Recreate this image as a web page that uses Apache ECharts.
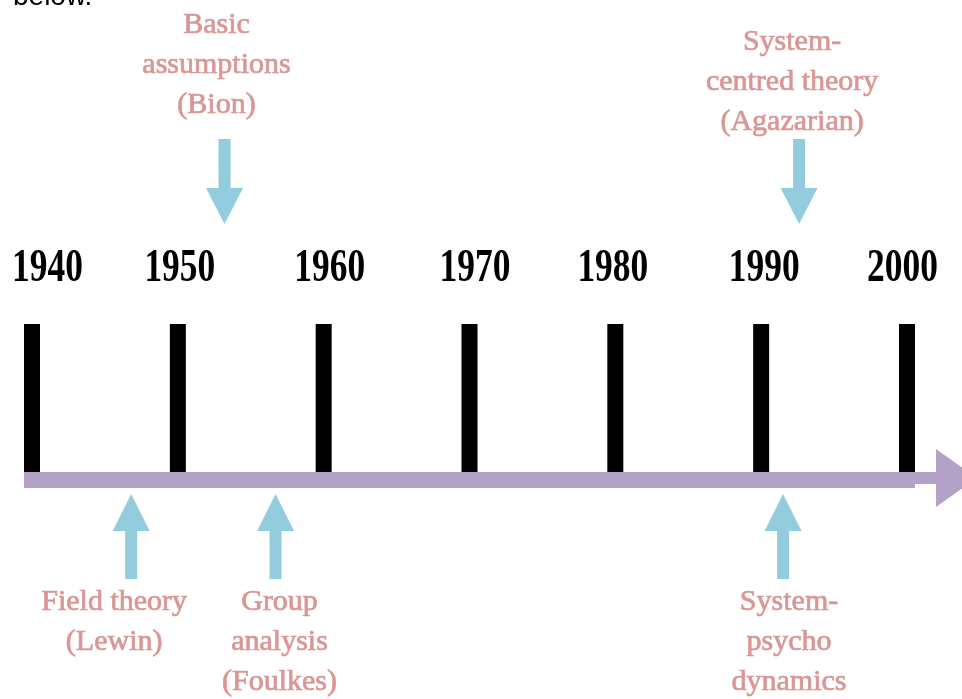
<!DOCTYPE html>
<html>
<head>
<meta charset="utf-8">
<script src="https://cdn.jsdelivr.net/npm/echarts@6/dist/echarts.min.js"></script>
<style>
  html, body { margin: 0; padding: 0; background: #ffffff; }
  #chart { width: 962px; height: 699px; }
</style>
</head>
<body>
<div id="chart"></div>
<script>
// ---------------- data ----------------
const years = [1940, 1950, 1960, 1970, 1980, 1990, 2000];
const yearLabels = ['1940', '1950', '1960', '1970', '1980', '1990', '2000'];
const eventYears = [1953.2, 1946.8, 1956.7, 1992.6, 1991.5];
const eventLabels = [
  'Basic\nassumptions\n(Bion)',
  'Field theory\n(Lewin)',
  'Group\nanalysis\n(Foulkes)',
  'System-\ncentred theory\n(Agazarian)',
  'System-\npsycho\ndynamics'
];
const eventSides = ['above', 'below', 'below', 'above', 'below'];
const introText = 'below.';

// ---------------- style ----------------
const PURPLE = '#B2A2C7';
const BLUE = '#93CDDD';
const PINK = '#D99694';
const yearLabelDx = [15.5, 2, 6, 5.5, -2.5, 3, -4.5];
const eventLabelDx = [-8, -17, 4, -7, 6];
const eventLabelTop = [5, 582, 582, 22, 582];
const LINE_Y = 480, LINE_H = 16;
const TICK_TOP = 324, TICK_W = 16;
const YEAR_Y = 269;

const chart = echarts.init(document.getElementById('chart'), null, { renderer: 'canvas' });

const option = {
  animation: false,
  backgroundColor: '#ffffff',
  grid: { left: 32, right: 55, top: 0, bottom: 0 },
  xAxis: { type: 'value', min: 1940, max: 2000, interval: 10, show: false },
  yAxis: { type: 'value', min: 0, max: 1, show: false },
  graphic: [{
    type: 'text', x: 13, y: -3,
    style: { text: introText, fill: '#000', fontSize: 28, fontFamily: '"Liberation Sans", Arial, sans-serif',
             align: 'left', verticalAlign: 'middle' }
  }],
  series: [
    {
      // timeline arrow
      type: 'custom', name: 'timeline', clip: false, silent: true,
      data: [[years[0], 0, years[years.length - 1]]],
      encode: { x: 0, y: 1 },
      renderItem: function (params, api) {
        const x0 = api.coord([api.value(0), 0])[0] - TICK_W / 2;
        const xe = api.coord([api.value(2), 0])[0];
        const shaftEnd = xe + TICK_W / 2;
        const headStart = xe + 29;
        const tip = xe + 70;
        return {
          type: 'group',
          children: [
            { type: 'rect', shape: { x: x0, y: LINE_Y - LINE_H / 2, width: shaftEnd - x0, height: LINE_H }, style: { fill: PURPLE } },
            { type: 'rect', shape: { x: shaftEnd - 1, y: LINE_Y - LINE_H / 2, width: headStart - shaftEnd + 2, height: 12 }, style: { fill: PURPLE } },
            { type: 'polygon', shape: { points: [[headStart, 449], [tip, 478], [headStart, 507]] }, style: { fill: PURPLE } }
          ]
        };
      }
    },
    {
      // decade bars
      type: 'custom', name: 'decades', clip: false, silent: true,
      data: years.map(function (y) { return [y, 0]; }),
      encode: { x: 0, y: 1 },
      renderItem: function (params, api) {
        const x = api.coord([api.value(0), 0])[0];
        return {
          type: 'rect',
          shape: { x: x - TICK_W / 2, y: TICK_TOP, width: TICK_W, height: (LINE_Y - LINE_H / 2) - TICK_TOP },
          style: { fill: '#000000' }
        };
      }
    },
    {
      // decade labels
      type: 'custom', name: 'decadeLabels', clip: false, silent: true,
      data: years.map(function (y, i) { return [y, 0, i]; }),
      encode: { x: 0, y: 1 },
      renderItem: function (params, api) {
        const i = api.value(2);
        const x = api.coord([api.value(0), 0])[0] + yearLabelDx[i];
        return {
          type: 'text', x: x, y: YEAR_Y, scaleX: 0.77,
          style: {
            text: yearLabels[i], fill: '#000000',
            fontSize: 46, fontWeight: 'bold', fontFamily: '"Liberation Serif", "Times New Roman", serif',
            align: 'center', verticalAlign: 'middle'
          }
        };
      }
    },
    {
      // events: arrows + labels
      type: 'custom', name: 'events', clip: false, silent: true,
      data: eventYears.map(function (y, i) { return [y, 0, i]; }),
      encode: { x: 0, y: 1 },
      renderItem: function (params, api) {
        const i = api.value(2);
        const x = api.coord([api.value(0), 0])[0];
        let arrow;
        if (eventSides[i] === 'above') {
          arrow = [
            { type: 'rect', shape: { x: x - 6, y: 139, width: 12, height: 50 }, style: { fill: BLUE } },
            { type: 'polygon', shape: { points: [[x - 18.5, 188], [x + 18.5, 188], [x, 224]] }, style: { fill: BLUE } }
          ];
        } else {
          arrow = [
            { type: 'polygon', shape: { points: [[x, 494], [x + 18.5, 531], [x - 18.5, 531]] }, style: { fill: BLUE } },
            { type: 'rect', shape: { x: x - 6, y: 530, width: 12, height: 49 }, style: { fill: BLUE } }
          ];
        }
        arrow.push({
          type: 'text', x: x + eventLabelDx[i], y: eventLabelTop[i],
          style: {
            text: eventLabels[i], fill: PINK, stroke: PINK, lineWidth: 0.7,
            fontSize: 30, lineHeight: 40, fontFamily: '"Liberation Serif", "Times New Roman", serif',
            align: 'center', verticalAlign: 'top'
          }
        });
        return { type: 'group', children: arrow };
      }
    }
  ]
};

chart.setOption(option);
</script>
</body>
</html>
